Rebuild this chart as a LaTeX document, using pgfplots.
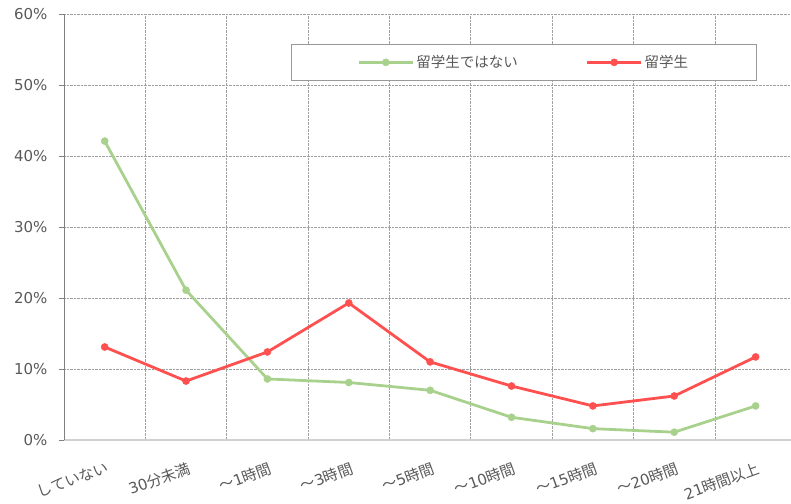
\documentclass[border=0pt]{standalone}
\usepackage{pgfplots}
\pgfplotsset{compat=1.18}
\usepackage{fontspec}
\setmainfont{DejaVu Sans}
\newfontfamily\cjk{Noto Sans CJK JP}
\newcommand\tl{\fontsize{15bp}{17bp}\selectfont}
\definecolor{cgreen}{HTML}{A9D18E}
\definecolor{cred}{HTML}{FF5050}
\definecolor{ctext}{HTML}{595959}
\definecolor{cgrid}{HTML}{A0A0A0}
\begin{document}
\begin{tikzpicture}
\path[use as bounding box] (-64bp,-64bp) rectangle (727bp,440bp);
\begin{axis}[
  at={(0,0)}, anchor=south west,
  scale only axis, width=727bp, height=426bp,
  xmin=-0.5, xmax=8.435, ymin=0, ymax=60,
  axis x line*=bottom, axis y line*=left,
  x axis line style={draw=black!18, line width=1.2bp},
  y axis line style={draw=black!50, line width=0.8bp},
  xtick={0,...,8},
  xticklabels={{\tl\cjk していない},{\tl 30\cjk 分未満},{\tl\cjk ～\rmfamily 1\cjk 時間},{\tl\cjk ～\rmfamily 3\cjk 時間},{\tl\cjk ～\rmfamily 5\cjk 時間},{\tl\cjk ～\rmfamily 10\cjk 時間},{\tl\cjk ～\rmfamily 15\cjk 時間},{\tl\cjk ～\rmfamily 20\cjk 時間},{\tl 21\cjk 時間以上}},
  major x tick style={draw=none},
  minor xtick={0.5,1.5,...,7.5},
  minor x tick style={draw=none},
  xminorgrids,
  minor x grid style={densely dotted, draw=cgrid, line width=0.7bp},
  ytick={0,10,...,60},
  yticklabels={{\tl 0\%},{\tl 10\%},{\tl 20\%},{\tl 30\%},{\tl 40\%},{\tl 50\%},{\tl 60\%}},
  ymajorgrids,
  major y grid style={densely dotted, draw=cgrid, line width=0.7bp},
  tick align=outside,
  major tick length=5bp,
  y tick style={draw=black!50, line width=0.8bp},
  tick label style={text=ctext},
  yticklabel style={xshift=-8bp},
  xticklabel style={rotate=20, anchor=north east, yshift=-12bp, xshift=-1bp},
  legend style={at={(rel axis cs:0.3122,0.9296)}, anchor=north west,
    draw=black!40, line width=1bp, legend columns=2,
    inner xsep=66bp, inner ysep=9bp,
    font=\fontsize{14.5bp}{17bp}\selectfont, text=ctext,
    /tikz/column 2/.style={column sep=66bp}},
  legend cell align=left,
  legend image code/.code={\draw[mark repeat=2,mark phase=2,#1] plot coordinates {(0bp,0bp) (27bp,0bp) (54bp,0bp)};},
  clip=false,
]
\addplot[cgreen, line width=2.8bp, mark=*, mark size=3.6bp, mark options={solid, fill=cgreen, draw=cgreen, line width=0.4bp}]
  coordinates {(0,42.1) (1,21.1) (2,8.6) (3,8.1) (4,7.0) (5,3.2) (6,1.6) (7,1.1) (8,4.8)};
\addlegendentry{\cjk 留学生ではない}
\addplot[cred, line width=2.8bp, mark=*, mark size=3.6bp, mark options={solid, fill=cred, draw=cred, line width=0.4bp}]
  coordinates {(0,13.1) (1,8.3) (2,12.4) (3,19.3) (4,11.0) (5,7.6) (6,4.8) (7,6.2) (8,11.7)};
\addlegendentry{\cjk 留学生}
\end{axis}
\end{tikzpicture}
\end{document}
